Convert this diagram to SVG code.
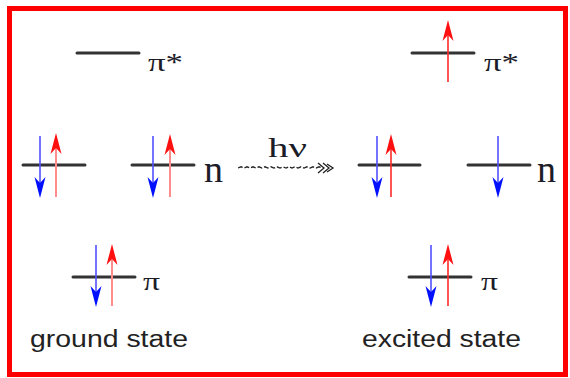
<svg xmlns="http://www.w3.org/2000/svg" width="570" height="378" viewBox="0 0 570 378">
<style>
.lvl{stroke:#333;stroke-width:3;stroke-linecap:round}
.bs{stroke:#5050ff;stroke-width:1.6}
.rs{stroke:#ff8c8c;stroke-width:2}
.rx{stroke:#ff2a2a;stroke-width:1.6}
.lab{font-family:"Liberation Serif","Times New Roman",serif;fill:#1c1c28}
.cap{font-family:"Liberation Sans",Arial,sans-serif;fill:#222;font-size:23px}
</style>
<defs>
<path id="hb" d="M0,0 L5.5,21 L0,15 L-5.5,21 Z" fill="#0010ff" transform="rotate(180)"/>
<path id="hr" d="M0,0 L5.5,21 L0,15 L-5.5,21 Z" fill="#ff1010"/>
</defs>
<rect x="9.5" y="8.5" width="556" height="366" fill="#fff" stroke="#ff0000" stroke-width="5"/>

<g id="ground-pistar">
<line class="lvl" x1="77" y1="53" x2="139" y2="53"/>
<text class="lab" x="148" y="71" font-size="25" textLength="35" lengthAdjust="spacingAndGlyphs">π*</text>
</g>
<g id="ground-n1">
<line class="lvl" x1="23" y1="165" x2="85" y2="165"/>
<line class="bs" x1="40" y1="136" x2="40" y2="186"/>
<use href="#hb" x="40" y="198"/>
<line class="rs" x1="56" y1="197" x2="56" y2="146"/>
<use href="#hr" x="56" y="133"/>
</g>
<g id="ground-n2">
<line class="lvl" x1="132" y1="165" x2="194" y2="165"/>
<line class="bs" x1="153" y1="136" x2="153" y2="186"/>
<use href="#hb" x="153" y="198"/>
<line class="rs" x1="170" y1="197" x2="170" y2="146"/>
<use href="#hr" x="170" y="134"/>
<text class="lab" x="204" y="182" font-size="37" textLength="19" lengthAdjust="spacingAndGlyphs">n</text>
</g>
<g id="ground-pi">
<line class="lvl" x1="73" y1="277" x2="135" y2="277"/>
<line class="bs" x1="96" y1="245" x2="96" y2="295"/>
<use href="#hb" x="96" y="307"/>
<line class="rs" x1="112" y1="306" x2="112" y2="256"/>
<use href="#hr" x="112" y="244"/>
<text class="lab" x="143" y="290" font-size="25" textLength="17" lengthAdjust="spacingAndGlyphs">π</text>
</g>
<text id="ground-label" class="cap" x="30" y="347" textLength="158" lengthAdjust="spacingAndGlyphs">ground state</text>

<g id="connectors">
<path d="M238,168 l3,-1.2 l3,1.2 l3,-1.2 l3,1.2 l3,-1.2 l3,1.2 l3,-1.2 l3,1.2 l3,-1.2 l3,1.2 l3,-1.2 l3,1.2 l3,-1.2 l3,1.2 l3,-1.2 l3,1.2 l3,-1.2 l3,1.2 l3,-1.2 l3,1.2 l3,-1.2 l3,1.2 l3,-1.2 l3,1.2 l3,-1.2 l3,1.2 l3,-1.2 l3,1.2" fill="none" stroke="#222" stroke-width="1.3" stroke-dasharray="5 2"/>
<path d="M318,163 L324,168 L318,173 M323,163 L329,168 L323,173 M327,164 L333,168 L327,172" fill="none" stroke="#222" stroke-width="1.3"/>
<text class="lab" x="268" y="157" font-size="28" textLength="39" lengthAdjust="spacingAndGlyphs">hν</text>
</g>

<g id="excited-pistar">
<line class="lvl" x1="412" y1="53" x2="474" y2="53"/>
<line class="rx" x1="448" y1="82" x2="448" y2="32"/>
<use href="#hr" x="448" y="20"/>
<text class="lab" x="484" y="71" font-size="25" textLength="35" lengthAdjust="spacingAndGlyphs">π*</text>
</g>
<g id="excited-n1">
<line class="lvl" x1="359" y1="165" x2="420" y2="165"/>
<line class="bs" x1="377" y1="136" x2="377" y2="186"/>
<use href="#hb" x="377" y="198"/>
<line class="rx" x1="391" y1="197" x2="391" y2="146"/>
<use href="#hr" x="391" y="134"/>
</g>
<g id="excited-n2">
<line class="lvl" x1="468" y1="165" x2="530" y2="165"/>
<line class="bs" x1="498" y1="136" x2="498" y2="186"/>
<use href="#hb" x="498" y="198"/>
<text class="lab" x="537" y="182" font-size="37" textLength="19" lengthAdjust="spacingAndGlyphs">n</text>
</g>
<g id="excited-pi">
<line class="lvl" x1="409" y1="277" x2="471" y2="277"/>
<line class="bs" x1="431" y1="245" x2="431" y2="295"/>
<use href="#hb" x="431" y="307"/>
<line class="rx" x1="448" y1="306" x2="448" y2="256"/>
<use href="#hr" x="448" y="244"/>
<text class="lab" x="481" y="290" font-size="25" textLength="17" lengthAdjust="spacingAndGlyphs">π</text>
</g>
<text id="excited-label" class="cap" x="362" y="347" textLength="159" lengthAdjust="spacingAndGlyphs">excited state</text>
</svg>
